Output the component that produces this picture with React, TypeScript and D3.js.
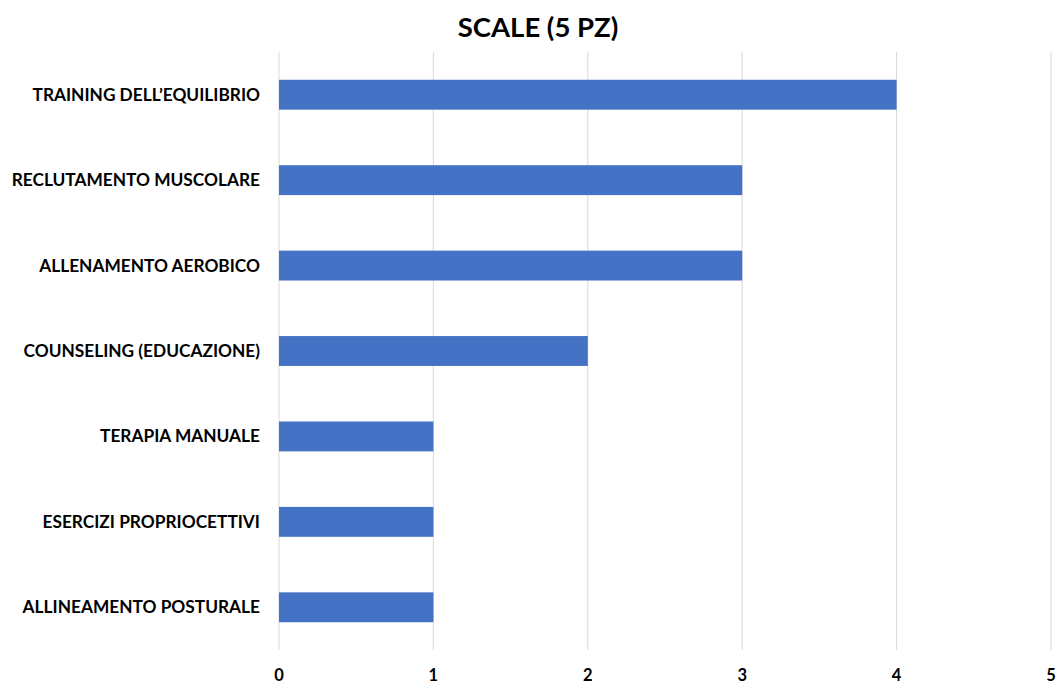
import React from "react";
import * as d3 from "d3";

// Categories (top to bottom) and their counts
const categories: string[] = [
  "TRAINING DELL’EQUILIBRIO",
  "RECLUTAMENTO MUSCOLARE",
  "ALLENAMENTO AEROBICO",
  "COUNSELING (EDUCAZIONE)",
  "TERAPIA MANUALE",
  "ESERCIZI PROPRIOCETTIVI",
  "ALLINEAMENTO POSTURALE",
];
const values: number[] = [4, 3, 3, 2, 1, 1, 1];
const xTicks: number[] = [0, 1, 2, 3, 4, 5];
const title = "SCALE (5 PZ)";

const W = 1059;
const H = 684;
const M = { top: 52, right: 8, bottom: 34, left: 279 };
const FONT = "Lato, 'Open Sans', sans-serif";

export default function App() {
  const x = d3.scaleLinear().domain([0, 5]).range([M.left, W - M.right]);
  const y = d3
    .scaleBand<string>()
    .domain(categories)
    .range([M.top, H - M.bottom])
    .paddingInner(0.65)
    .paddingOuter(0.325);

  return (
    <svg
      width={W}
      height={H}
      style={{ position: "absolute", left: 0, top: 0, background: "#fff" }}
      fontFamily={FONT}
    >
      <text
        x={538}
        y={37}
        textAnchor="middle"
        fontSize={27.5}
        fontWeight={700}
        fill="#000"
      >
        {title}
      </text>

      {xTicks.map((t) => (
        <line
          key={`g${t}`}
          x1={x(t)}
          x2={x(t)}
          y1={M.top}
          y2={H - M.bottom}
          stroke="#d9d9d9"
          strokeWidth={1}
        />
      ))}

      {categories.map((c, i) => (
        <rect
          key={c}
          x={x(0)}
          y={y(c)}
          width={x(values[i]) - x(0)}
          height={y.bandwidth()}
          fill="#4472c4"
        />
      ))}

      {categories.map((c) => (
        <text
          key={`l${c}`}
          x={260}
          y={(y(c) ?? 0) + y.bandwidth() / 2}
          dy="0.35em"
          textAnchor="end"
          fontSize={17.3}
          fontWeight={700}
          fill="#000"
        >
          {c}
        </text>
      ))}

      {xTicks.map((t) => (
        <text
          key={`t${t}`}
          x={x(t)}
          y={675}
          dy="0.35em"
          textAnchor="middle"
          fontSize={16.5}
          fontWeight={700}
          fill="#000"
        >
          {t}
        </text>
      ))}
    </svg>
  );
}
